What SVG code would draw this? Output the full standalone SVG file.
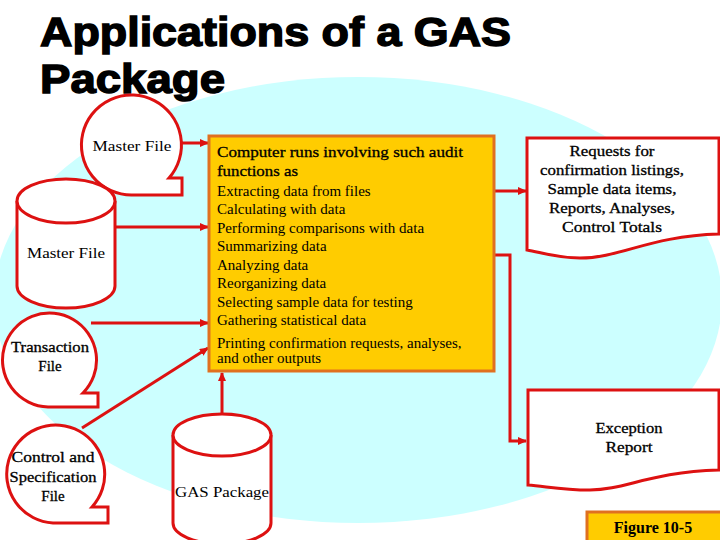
<svg xmlns="http://www.w3.org/2000/svg" width="720" height="540" viewBox="0 0 720 540">
<defs>
<style>
.shape{fill:#fff;stroke:#DD1111;stroke-width:3;stroke-linejoin:miter}
.conn{fill:none;stroke:#DD1111;stroke-width:3}
.t{font-family:"Liberation Serif","Times New Roman",serif;font-size:15px;fill:#000}
.tb{font-family:"Liberation Serif","Times New Roman",serif;font-size:15px;fill:#000;stroke:#000;stroke-width:0.3}
.fb{font-family:"Liberation Serif","Times New Roman",serif;font-size:16px;font-weight:bold;fill:#000}
.c{text-anchor:middle}
.title{font-family:"Liberation Sans",Arial,sans-serif;font-size:40px;font-weight:bold;fill:#000;stroke:#000;stroke-width:1.4}
.box{fill:#FFCC00;stroke:#E07020;stroke-width:3}
</style>
<marker id="arr" markerWidth="9" markerHeight="8" refX="8" refY="4" orient="auto" markerUnits="userSpaceOnUse">
<path d="M0,0 L9,4 L0,8 Z" fill="#DD1111"/>
</marker>
</defs>
<rect width="720" height="540" fill="#fff"/>
<ellipse cx="358" cy="300" rx="364" ry="223" fill="#CCFFFF"/>
<g id="title">
<text class="title" x="40" y="46" textLength="471" lengthAdjust="spacingAndGlyphs">Applications of a GAS</text>
<text class="title" x="40" y="93" textLength="185" lengthAdjust="spacingAndGlyphs">Package</text>
</g>
<g id="connectors">
<line class="conn" x1="182" y1="143" x2="208" y2="143" marker-end="url(#arr)"/>
<line class="conn" x1="115" y1="227" x2="208" y2="227" marker-end="url(#arr)"/>
<line class="conn" x1="91" y1="323" x2="208" y2="323" marker-end="url(#arr)"/>
<line class="conn" x1="82" y1="428" x2="208" y2="348" marker-end="url(#arr)"/>
<line class="conn" x1="222" y1="414" x2="222" y2="373" marker-end="url(#arr)"/>
<line class="conn" x1="494" y1="191" x2="526" y2="191" marker-end="url(#arr)"/>
<path class="conn" d="M494,255 H510 V441 H526" marker-end="url(#arr)"/>
</g>
<g id="master-file-tape">
<path class="shape" d="M182,178 L169,178 A50,50 0 1 0 132,195 L182,195 Z"/>
<text class="t c" x="132" y="151" textLength="79" lengthAdjust="spacingAndGlyphs">Master File</text>
</g>
<g id="master-file-disk">
<path class="shape" d="M17,201 V286 A49,22 0 0 0 115,286 V201"/>
<ellipse class="shape" cx="66" cy="201" rx="49" ry="22"/>
<text class="t c" x="66" y="258" textLength="78" lengthAdjust="spacingAndGlyphs">Master File</text>
</g>
<g id="transaction-file">
<path class="shape" d="M98,393 L83,393 A47,47 0 1 0 48,407 L98,407 Z"/>
<text class="tb c" x="50" y="352" textLength="78" lengthAdjust="spacingAndGlyphs">Transaction</text>
<text class="tb c" x="50" y="371">File</text>
</g>
<g id="control-file">
<path class="shape" d="M108,507 L92,507 A49,49 0 1 0 53,523 L108,523 Z"/>
<text class="tb c" x="53" y="462" textLength="83" lengthAdjust="spacingAndGlyphs">Control and</text>
<text class="tb c" x="53" y="482" textLength="87" lengthAdjust="spacingAndGlyphs">Specification</text>
<text class="tb c" x="53" y="501">File</text>
</g>
<g id="gas-package">
<path class="shape" d="M173,435 V523 A49,21 0 0 0 271,523 V435"/>
<ellipse class="shape" cx="222" cy="435" rx="49" ry="21"/>
<text class="t c" x="222" y="497" textLength="94" lengthAdjust="spacingAndGlyphs">GAS Package</text>
</g>
<g id="computer-runs">
<rect class="box" x="209" y="136" width="285" height="235"/>
<text class="tb" x="217" y="157" textLength="246" lengthAdjust="spacingAndGlyphs">Computer runs involving such audit</text>
<text class="tb" x="217" y="176" textLength="81" lengthAdjust="spacingAndGlyphs">functions as</text>
<text class="t" x="217" y="196">Extracting data from files</text>
<text class="t" x="217" y="214">Calculating with data</text>
<text class="t" x="217" y="233">Performing comparisons with data</text>
<text class="t" x="217" y="251">Summarizing data</text>
<text class="t" x="217" y="270">Analyzing data</text>
<text class="t" x="217" y="288">Reorganizing data</text>
<text class="t" x="217" y="307">Selecting sample data for testing</text>
<text class="t" x="217" y="325">Gathering statistical data</text>
<text class="t" x="217" y="348">Printing confirmation requests, analyses,</text>
<text class="t" x="217" y="363">and other outputs</text>
</g>
<g id="requests-report">
<path class="shape" d="M527,138 H719 V234 C650,236 620,258 580,258 C555,258 540,252 527,250 Z"/>
<text class="tb c" x="612" y="156" textLength="85" lengthAdjust="spacingAndGlyphs">Requests for</text>
<text class="tb c" x="612" y="175" textLength="144" lengthAdjust="spacingAndGlyphs">confirmation listings,</text>
<text class="tb c" x="612" y="194" textLength="129" lengthAdjust="spacingAndGlyphs">Sample data items,</text>
<text class="tb c" x="612" y="213" textLength="126" lengthAdjust="spacingAndGlyphs">Reports, Analyses,</text>
<text class="tb c" x="612" y="232" textLength="100" lengthAdjust="spacingAndGlyphs">Control Totals</text>
</g>
<g id="exception-report">
<path class="shape" d="M528,390 H719 V470 C650,472 625,490 590,490 C560,490 545,486 528,485 Z"/>
<text class="tb c" x="629" y="433" textLength="67" lengthAdjust="spacingAndGlyphs">Exception</text>
<text class="tb c" x="629" y="452" textLength="47" lengthAdjust="spacingAndGlyphs">Report</text>
</g>
<g id="figure-label">
<rect class="box" x="587" y="512" width="140" height="40"/>
<text class="fb c" x="653" y="533">Figure 10-5</text>
</g>
</svg>
